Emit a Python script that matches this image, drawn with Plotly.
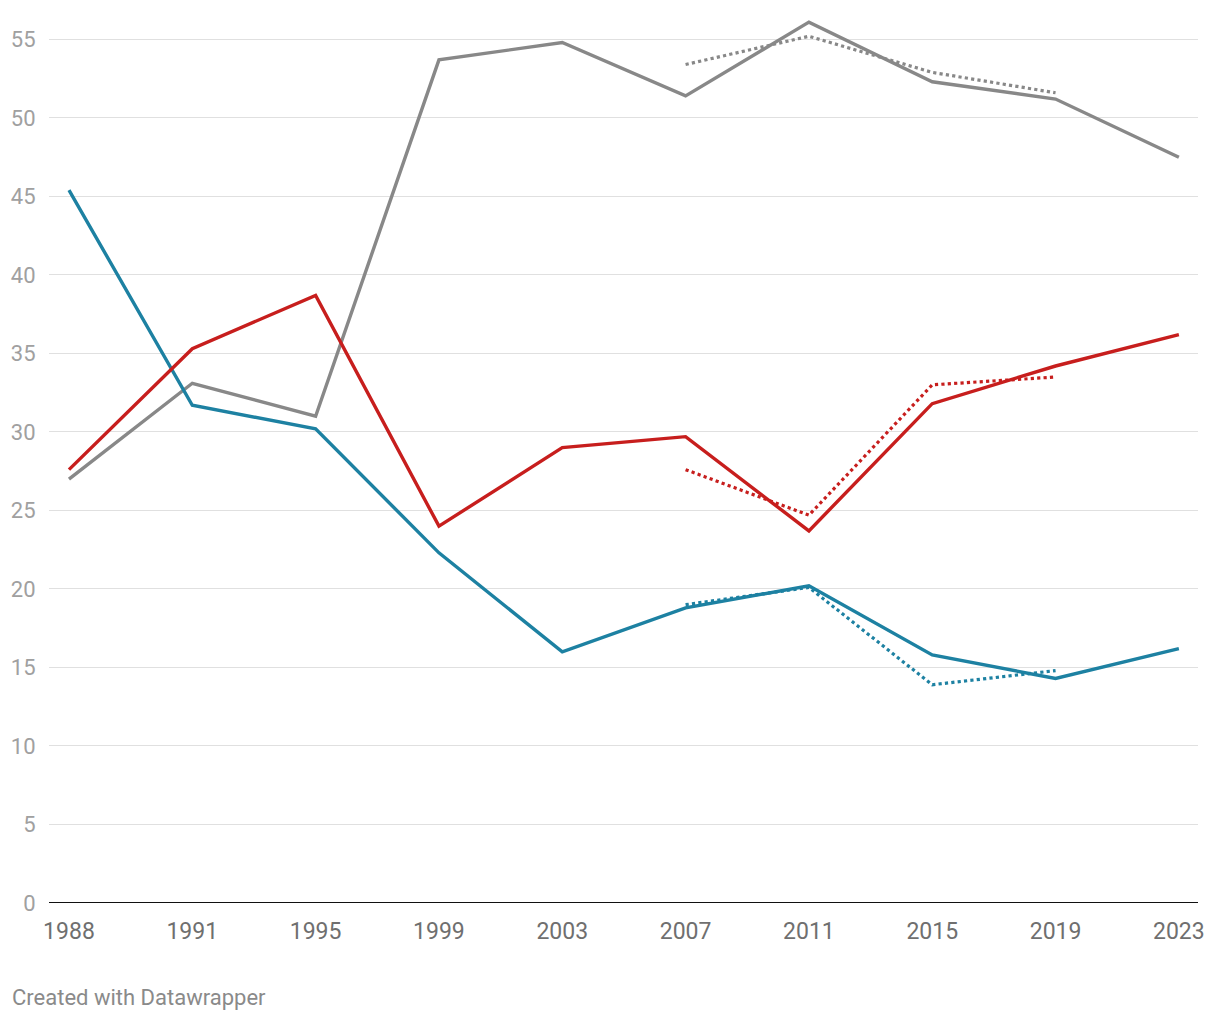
import plotly.graph_objects as go

years = ["1988", "1991", "1995", "1999", "2003", "2007", "2011", "2015", "2019", "2023"]
gray_solid = [27.0, 33.1, 31.0, 53.7, 54.8, 51.4, 56.1, 52.3, 51.2, 47.5]
red_solid = [27.6, 35.3, 38.7, 24.0, 29.0, 29.7, 23.7, 31.8, 34.2, 36.2]
blue_solid = [45.4, 31.7, 30.2, 22.3, 16.0, 18.8, 20.2, 15.8, 14.3, 16.2]

dot_years = ["2007", "2011", "2015", "2019"]
gray_dot = [53.4, 55.2, 52.9, 51.6]
red_dot = [27.6, 24.7, 33.0, 33.5]
blue_dot = [19.0, 20.1, 13.9, 14.8]

y_ticks = [0, 5, 10, 15, 20, 25, 30, 35, 40, 45, 50, 55]

GRAY = "#888888"
RED = "#c71e1d"
BLUE = "#1d81a2"

idx = {y: i for i, y in enumerate(years)}
xs = [idx[y] for y in years]
xd = [idx[y] for y in dot_years]

fig = go.Figure()
for vals, col in [(gray_dot, GRAY), (red_dot, RED), (blue_dot, BLUE)]:
    fig.add_trace(go.Scatter(x=xd, y=vals, mode="lines",
                             line=dict(color=col, width=3.2, dash="dot"),
                             hoverinfo="skip", showlegend=False))
for vals, col in [(gray_solid, GRAY), (blue_solid, BLUE), (red_solid, RED)]:
    fig.add_trace(go.Scatter(x=xs, y=vals, mode="lines",
                             line=dict(color=col, width=3.4),
                             showlegend=False))

fig.update_layout(
    width=1204, height=1004,
    margin=dict(l=41, r=14, t=0, b=109),
    paper_bgcolor="white", plot_bgcolor="white",
    font=dict(family="Roboto", color="#888888"),
    xaxis=dict(range=[-0.162, 9.155], tickmode="array", tickvals=xs, ticktext=years,
               showgrid=False, zeroline=False, showline=False,
               tickfont=dict(size=23, color="#6f6f6f"), ticks="outside", ticklen=7,
               tickcolor="rgba(0,0,0,0)"),
    yaxis=dict(range=[0, 57], tickmode="array", tickvals=y_ticks,
               showgrid=True, gridcolor="#e0e0e0", gridwidth=1, zeroline=False,
               showline=False, tickfont=dict(size=22, color="#a0a0a0"),
               ticks="outside", ticklen=8, tickcolor="rgba(0,0,0,0)"),
    annotations=[dict(text="Created with Datawrapper", xref="paper", yref="paper",
                      x=0, xanchor="left", xshift=-39, y=0, yshift=-94, yanchor="middle",
                      showarrow=False, font=dict(size=22, color="#8a8a8a", family="Roboto"))],
    shapes=[dict(type="line", xref="paper", yref="y", x0=0, x1=1, y0=0, y1=0,
                 line=dict(color="#111111", width=2))],
)

fig.write_html("out.html")
